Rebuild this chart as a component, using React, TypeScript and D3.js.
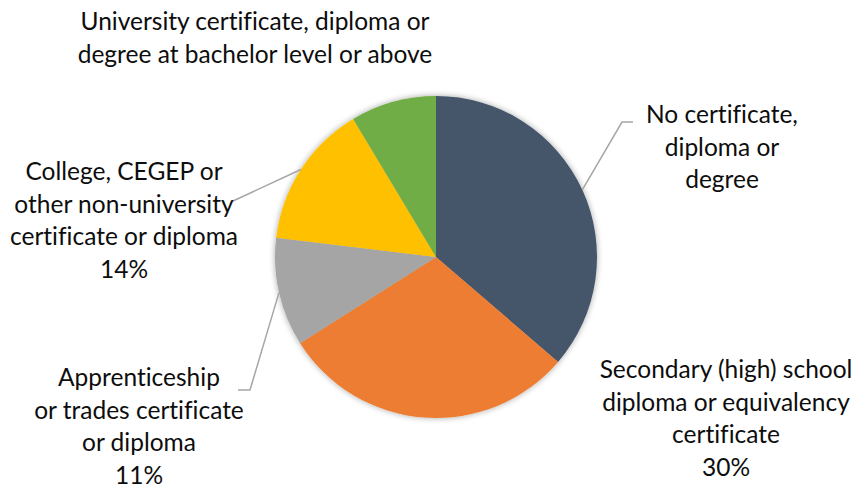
import React from "react";
import * as d3 from "d3";

const categories = [
  "No certificate, diploma or degree",
  "Secondary (high) school diploma or equivalency certificate",
  "Apprenticeship or trades certificate or diploma",
  "College, CEGEP or other non-university certificate or diploma",
  "University certificate, diploma or degree at bachelor level or above",
];
const values = [36.3, 29.7, 10.9, 14.5, 8.6];
const percentLabels = ["", "30%", "11%", "14%", ""];
const labelLines = [
  ["No certificate,", "diploma or", "degree"],
  ["Secondary (high) school", "diploma or equivalency", "certificate"],
  ["Apprenticeship", "or trades certificate", "or diploma"],
  ["College, CEGEP or", "other non-university", "certificate or diploma"],
  ["University certificate, diploma or", "degree at bachelor level or above"],
];
const colors = ["#44546A", "#ED7D31", "#A5A5A5", "#FFC000", "#70AD47"];

// layout (label anchor centre x, first baseline y, leader start)
const labelPos = [
  { x: 722, y: 123, leader: { x: 633, y: 122, elbow: 622 } },
  { x: 726, y: 378, leader: null },
  { x: 139, y: 386, leader: { x: 238, y: 390, elbow: 250 } },
  { x: 124, y: 180, leader: { x: 233, y: 201, elbow: null } },
  { x: 255, y: 30, leader: null },
];

const W = 860;
const H = 487;
const cx = 436;
const cy = 257;
const R = 161;
const lineH = 32.5;

export default function App() {
  const pie = d3.pie<number>().sort(null).value((d) => d)(values);
  const arc = d3.arc<d3.PieArcDatum<number>>().innerRadius(0).outerRadius(R);
  return (
    <svg
      width={W}
      height={H}
      style={{ position: "absolute", left: 0, top: 0, background: "#fff", fontVariantLigatures: "none" }}
      fontFamily="Lato, 'Open Sans', sans-serif"
    >
      <defs>
        <filter id="sh" x="-20%" y="-20%" width="140%" height="140%">
          <feGaussianBlur in="SourceAlpha" stdDeviation="3" />
          <feOffset dx="0" dy="0" result="b" />
          <feComponentTransfer>
            <feFuncA type="linear" slope="0.35" />
          </feComponentTransfer>
          <feMerge>
            <feMergeNode />
            <feMergeNode in="SourceGraphic" />
          </feMerge>
        </filter>
      </defs>
      <g transform={`translate(${cx},${cy})`} filter="url(#sh)">
        {pie.map((d, i) => (
          <path key={i} d={arc(d) || ""} fill={colors[i]} />
        ))}
      </g>
      {pie.map((d, i) => {
        const lp = labelPos[i];
        if (!lp.leader) return null;
        const mid = (d.startAngle + d.endAngle) / 2;
        const ex = cx + R * Math.sin(mid);
        const ey = cy - R * Math.cos(mid);
        const pts: [number, number][] = [[lp.leader.x, lp.leader.y]];
        if (lp.leader.elbow !== null) pts.push([lp.leader.elbow, lp.leader.y]);
        pts.push([ex, ey]);
        return (
          <path
            key={"l" + i}
            d={d3.line()(pts) || ""}
            fill="none"
            stroke="#A6A6A6"
            strokeWidth={1.5}
          />
        );
      })}
      {labelLines.map((lines, i) => {
        const lp = labelPos[i];
        const all = percentLabels[i] ? [...lines, percentLabels[i]] : lines;
        return (
          <text
            key={"t" + i}
            x={lp.x}
            y={lp.y}
            textAnchor="middle"
            fontSize={24.5}
            fill="#0D0D0D"
            style={{ fontVariantLigatures: "none" }}
          >
            {all.map((s, j) => (
              <tspan key={j} x={lp.x} dy={j === 0 ? 0 : lineH}>
                {s}
              </tspan>
            ))}
          </text>
        );
      })}
    </svg>
  );
}
